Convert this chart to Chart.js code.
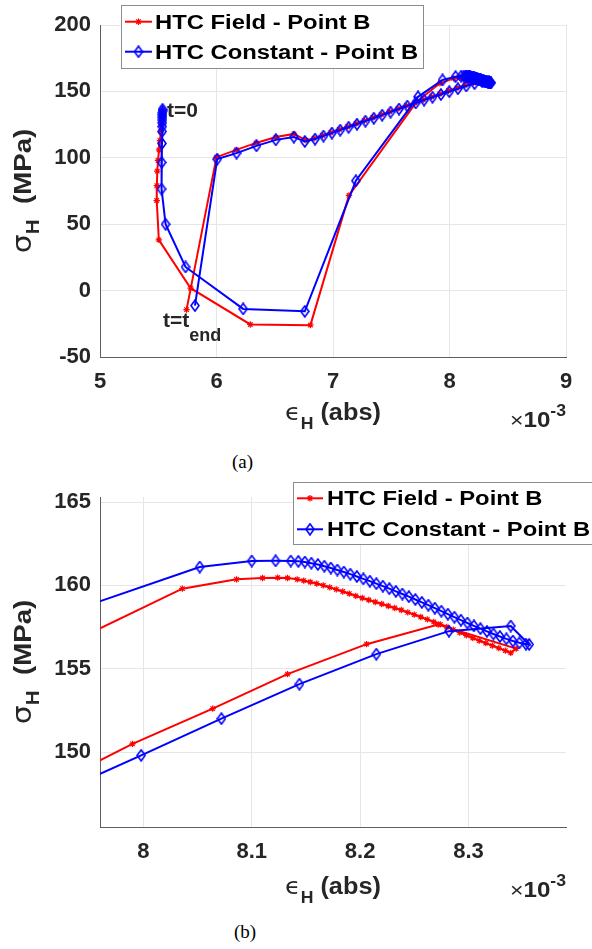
<!DOCTYPE html>
<html>
<head>
<meta charset="UTF-8">
<title>HTC Field vs HTC Constant - Point B</title>
<style>
  body { margin: 0; background: #fff; }
  #wrap { position: relative; width: 592px; height: 949px; overflow: hidden; }
  .box { position: absolute; left: 0; width: 592px; height: 440px; }
  .cap { position: absolute; font-family: "Liberation Serif", "DejaVu Serif", serif; font-size: 19px; color: #000; }
</style>
</head>
<body>
<div id="wrap">
  <div class="box" style="top:0"><canvas id="chartA"></canvas></div>
  <div class="cap" style="left:232px; top:451px">(a)</div>
  <div class="box" style="top:470px"><canvas id="chartB"></canvas></div>
  <div class="cap" style="left:234px; top:921px">(b)</div>
</div>
<script src="https://cdn.jsdelivr.net/npm/chart.js"></script>
<script>
// strain in units of 1e-3, stress in MPa
const redX = [
  5.535, 5.533, 5.530, 5.527, 5.522, 5.515, 5.507, 5.498, 5.492, 5.488, 5.487, 5.505,
  5.778, 6.290, 6.806, 7.137, 7.720, 7.918,
  8.036, 8.086, 8.110, 8.124, 8.133, 8.142,
  8.148, 8.154, 8.160, 8.166, 8.172, 8.178, 8.184, 8.190, 8.196, 8.202, 8.208, 8.214,
  8.220, 8.226, 8.232, 8.238, 8.244, 8.250, 8.256, 8.262, 8.268, 8.274, 8.280, 8.286,
  8.292, 8.298, 8.304, 8.310, 8.316, 8.322, 8.328, 8.334, 8.339,
  8.344, 8.272, 8.206, 8.133, 8.064, 7.990,
  7.918, 7.846, 7.774, 7.702, 7.630, 7.558, 7.486, 7.414, 7.342, 7.270, 7.198, 7.126,
  7.054, 6.982, 6.910, 6.838, 6.768,
  6.665, 6.510, 6.340, 6.170, 6.000, 5.743
];
const redY = [
  135.5, 133.0, 129.5, 125.0, 119.5, 113.0, 106.0, 98.0, 90.0, 79.0, 67.8, 38.2,
  1.8, -25.5, -26.0, 71.7, 142.5, 156.1,
  159.8, 160.36, 160.44, 160.46, 160.44, 160.36,
  160.28, 160.2, 160.1, 160.0, 159.88, 159.76, 159.63, 159.5, 159.37, 159.24, 159.12, 159.0,
  158.88, 158.76, 158.64, 158.52, 158.38, 158.24, 158.1, 157.96, 157.81, 157.66, 157.5, 157.34,
  157.17, 157.0, 156.84, 156.68, 156.53, 156.38, 156.23, 156.08, 155.95,
  156.2, 157.65, 156.47, 154.67, 152.6, 150.49,
  148.1, 145.9, 143.7, 141.5, 139.3, 137.0, 134.8, 132.5, 130.3, 128.0, 125.8, 123.5,
  121.3, 119.0, 116.8, 114.6, 113.2,
  118.0, 115.6, 111.2, 106.0, 100.5, -14.3
];
const blueX = [
  5.537, 5.537, 5.536, 5.536, 5.535, 5.535, 5.534, 5.534, 5.533, 5.532, 5.529, 5.528, 5.563, 5.734,
  6.229, 6.758, 7.196, 7.730, 7.940,
  8.052, 8.100, 8.122, 8.136, 8.143,
  8.149, 8.155, 8.161, 8.167, 8.173, 8.179, 8.185, 8.191, 8.197, 8.203, 8.209, 8.215,
  8.221, 8.227, 8.233, 8.239, 8.245, 8.251, 8.257, 8.263, 8.269, 8.275, 8.281, 8.287,
  8.293, 8.299, 8.305, 8.311, 8.317, 8.323, 8.329, 8.335, 8.341, 8.347, 8.353, 8.356,
  8.339, 8.282, 8.215, 8.144, 8.072, 7.998,
  7.926, 7.854, 7.782, 7.710, 7.638, 7.566, 7.494, 7.422, 7.350, 7.278, 7.206, 7.134,
  7.062, 6.990, 6.918, 6.846, 6.758,
  6.664, 6.509, 6.343, 6.172, 6.006, 5.815
];
const blueY = [
  136.5, 135.2, 133.8, 132.2, 130.5, 128.5, 126.3, 123.5, 119.8, 110.8, 96.5, 76.5, 50.0, 17.8,
  -13.8, -15.6, 82.7, 145.9, 158.6,
  161.1, 161.46, 161.47, 161.46, 161.44,
  161.4, 161.33, 161.25, 161.15, 161.04, 160.92, 160.8, 160.67, 160.53, 160.39, 160.25, 160.1,
  159.95, 159.8, 159.64, 159.48, 159.32, 159.15, 158.98, 158.81, 158.63, 158.45, 158.27, 158.09,
  157.91, 157.74, 157.57, 157.4, 157.24, 157.08, 156.93, 156.79, 156.66, 156.55, 156.47, 156.45,
  157.56, 157.25, 155.87, 154.07, 152.0, 149.8,
  147.7, 145.6, 143.5, 141.3, 139.0, 136.7, 134.4, 132.1, 129.8, 127.6, 125.3, 123.0,
  120.8, 118.6, 116.4, 114.1, 112.3,
  115.6, 113.5, 109.0, 103.5, 99.0, -11.3
];
const seriesNames = ['HTC Field - Point B', 'HTC Constant - Point B'];

const ticksAX = [5, 6, 7, 8, 9];
const ticksAY = [-50, 0, 50, 100, 150, 200];
const ticksBX = [8, 8.1, 8.2, 8.3];
const ticksBY = [150, 155, 160, 165];

const SANS = '"Liberation Sans", Arial, sans-serif';
const INK = '#262626';

function toPoints(xs, ys) {
  return xs.map((x, i) => ({ x: x, y: ys[i] }));
}

function makeDiamond(color) {
  const c = document.createElement('canvas');
  c.width = 10; c.height = 13;
  const g = c.getContext('2d');
  g.strokeStyle = color; g.lineWidth = 1.6;
  g.beginPath();
  g.moveTo(5, 1); g.lineTo(9, 6.5); g.lineTo(5, 12); g.lineTo(1, 6.5);
  g.closePath(); g.stroke();
  return c;
}
const diamond = makeDiamond('#0000ff');

// text run helpers (pieces with own font, vertical shift and x-stretch)
function runWidth(ctx, parts) {
  let w = 0;
  for (const p of parts) { ctx.font = p.font; w += ctx.measureText(p.text).width * (p.sx || 1); }
  return w;
}
function drawRun(ctx, parts, x, y) {
  for (const p of parts) {
    ctx.font = p.font;
    const w = ctx.measureText(p.text).width * (p.sx || 1);
    ctx.save();
    ctx.translate(x, y + (p.dy || 0));
    ctx.scale(p.sx || 1, 1);
    ctx.fillText(p.text, 0, 0);
    ctx.restore();
    x += w;
  }
}

function drawStar(ctx, x, y, r, color) {
  ctx.save();
  ctx.strokeStyle = color; ctx.lineWidth = 1.2;
  ctx.beginPath();
  for (let k = 0; k < 4; k++) {
    const a = k * Math.PI / 4;
    ctx.moveTo(x - r * Math.cos(a), y - r * Math.sin(a));
    ctx.lineTo(x + r * Math.cos(a), y + r * Math.sin(a));
  }
  ctx.stroke();
  ctx.restore();
}

function makeExtras(cfg) {
  return {
    id: 'extras' + cfg.name,
    afterDraw(chart) {
      const ctx = chart.ctx, a = chart.chartArea;
      const sx = chart.scales.x, sy = chart.scales.y;
      ctx.save();
      ctx.fillStyle = INK;
      ctx.textBaseline = 'alphabetic';

      // x axis title
      const xt = [
        { text: '\u03f5', font: '23px "DejaVu Sans", sans-serif', sx: 1.1 },
        { text: 'H', font: 'bold 16px ' + SANS, dy: 9, sx: 1.1 },
        { text: ' (abs)', font: 'bold 23px ' + SANS, sx: 1.1 }
      ];
      const xw = runWidth(ctx, xt);
      drawRun(ctx, xt, (a.left + a.right) / 2 - xw / 2, cfg.xTitleBase);

      // exponent label
      const ex = [
        { text: '\u00d7', font: '21px ' + SANS, sx: 1.1 },
        { text: '10', font: 'bold 22px ' + SANS, sx: 1.1 },
        { text: '-3', font: 'bold 16px ' + SANS, sx: 1.1, dy: -11 }
      ];
      const ew = runWidth(ctx, ex);
      drawRun(ctx, ex, a.right - ew, 427);

      // y axis title
      const yt = [
        { text: '\u03c3', font: '26px "DejaVu Sans", sans-serif', sx: 1.15 },
        { text: 'H', font: 'bold 18px ' + SANS, dy: 8, sx: 1.15 },
        { text: '  (MPa)', font: 'bold 24px ' + SANS, sx: 1.15 }
      ];
      const yw = runWidth(ctx, yt);
      ctx.save();
      ctx.translate(31, (a.top + a.bottom) / 2);
      ctx.rotate(-Math.PI / 2);
      drawRun(ctx, yt, -yw / 2, 0);
      ctx.restore();

      // annotations at data positions
      for (const an of cfg.annos) {
        drawRun(ctx, an.parts, sx.getPixelForValue(an.x), sy.getPixelForValue(an.y) + 7.5);
      }

      // legend
      const lg = cfg.legend;
      ctx.fillStyle = '#fff';
      ctx.fillRect(lg.x, lg.y, lg.w, lg.h);
      ctx.strokeStyle = '#8c8c8c'; ctx.lineWidth = 1;
      ctx.strokeRect(lg.x + 0.5, lg.y + 0.5, lg.w, lg.h);
      chart.data.datasets.forEach((ds, i) => {
        const yy = lg.rows[i];
        ctx.strokeStyle = ds.borderColor; ctx.lineWidth = 2;
        ctx.beginPath(); ctx.moveTo(lg.l0, yy); ctx.lineTo(lg.l1, yy); ctx.stroke();
        const mx = (lg.l0 + lg.l1) / 2;
        if (ds.pointStyle === 'star') drawStar(ctx, mx, yy, 3.2, ds.borderColor);
        else ctx.drawImage(ds.pointStyle, mx - ds.pointStyle.width / 2, yy - ds.pointStyle.height / 2);
        ctx.fillStyle = '#000';
        drawRun(ctx, [{ text: ds.label, font: 'bold 20px ' + SANS, sx: 1.19 }], lg.tx, yy + 7);
      });
      ctx.restore();
    }
  };
}

function axis(min, max, ticks, fitFn) {
  return {
    type: 'linear', min: min, max: max,
    afterBuildTicks: s => { s.ticks = ticks.map(v => ({ value: v })); },
    afterFit: fitFn,
    grid: { color: '#e6e6e6', lineWidth: 1, drawTicks: false },
    border: { display: true, color: '#5e5e5e', width: 1 },
    ticks: { color: INK, font: { family: SANS, size: 22, weight: 'bold' }, padding: 10, callback: v => String(v) }
  };
}

function buildChart(id, xr, yr, xt, yt, topPad, cfg) {
  const xAxis = axis(xr[0], xr[1], xt, s => { s.height = 83; });
  xAxis.ticks.padding = 12;
  const yAxis = axis(yr[0], yr[1], yt, s => { s.width = 100; });
  yAxis.ticks.padding = 9;
  return new Chart(document.getElementById(id), {
    type: 'scatter',
    data: {
      datasets: [
        { label: seriesNames[0], data: toPoints(redX, redY), showLine: true,
          borderColor: '#ff0000', backgroundColor: '#ff0000', borderWidth: 2,
          pointStyle: 'star', pointRadius: 3.2, pointBorderWidth: 1.2, pointBorderColor: '#ff0000',
          clip: 0, order: 1 },
        { label: seriesNames[1], data: toPoints(blueX, blueY), showLine: true,
          borderColor: '#0000ff', backgroundColor: '#0000ff', borderWidth: 2,
          pointStyle: diamond, pointRadius: 5,
          clip: 0, order: 0 }
      ]
    },
    options: {
      responsive: true, maintainAspectRatio: false, animation: false,
      layout: { padding: { top: topPad, right: 26, left: 0, bottom: 0 } },
      plugins: { legend: { display: false }, tooltip: { enabled: false } },
      scales: { x: xAxis, y: yAxis }
    },
    plugins: [makeExtras(cfg)]
  });
}

buildChart('chartA', [5, 9], [-50, 200], ticksAX, ticksAY, 25, {
  name: 'A', xTitleBase: 420,
  legend: { x: 121, y: 5, w: 302, h: 63, rows: [21.7, 51.7], l0: 125, l1: 152, tx: 155 },
  annos: [
    { x: 5.575, y: 136, parts: [{ text: 't=0', font: 'bold 21px ' + SANS }] },
    { x: 5.54, y: -21.8, parts: [
      { text: 't=t', font: 'bold 21px ' + SANS },
      { text: 'end', font: 'bold 18px ' + SANS, dy: 14 }
    ] }
  ]
});

buildChart('chartB', [7.96, 8.39], [145.5, 165.3], ticksBX, ticksBY, 27, {
  name: 'B', xTitleBase: 424,
  legend: { x: 293, y: 12, w: 310, h: 62, rows: [28.3, 59.3], l0: 297, l1: 323, tx: 327 },
  annos: []
});
</script>
</body>
</html>
